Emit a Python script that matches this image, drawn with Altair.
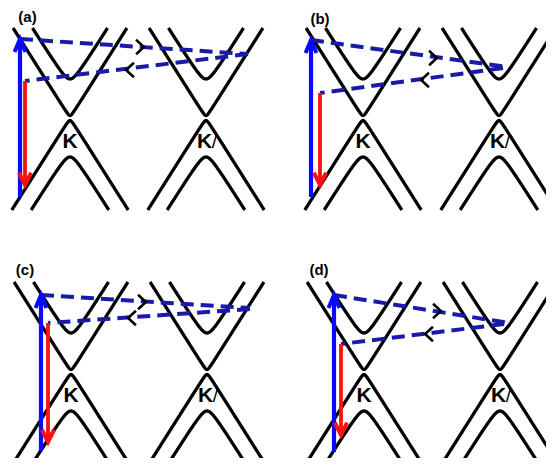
import altair as alt
import numpy as np
import pandas as pd

# ---- band schematic parameters (units: k horizontal, E vertical) ----
SLOPE = 1.58          # asymptotic band velocity
X_GAP = 2.5           # half gap of the crossing (X-shaped) bands
OUTER_SHIFT = 30      # offset of outer bands
OUTER_GAP = 9         # curvature of outer bands at the band edge
VALLEYS = [0, 136]    # K and K' positions (relative to K)
E_TOP = 90
E_BOT = -92

# panel placement (K-point crossing of each panel in the layout frame)
panel_x0 = [70, 363, 71, 364]
panel_y0 = [118, 118, 372, 372]

panel_labels = ["(a)", "(b)", "(c)", "(d)"]
label_k = [-42.5, -43, -46, -45]
label_E = [101.5, 99.5, 102, 102]

# vertical (optical) transitions
blue_k = [-50, -52, -30, -30]
blue_E0 = [-79, -79, -79, -80]
blue_E1 = [79, 78, 77, 77]
red_k = [-45, -43, -23, -23]
red_E0 = [37, 25, 49, 28]
red_E1 = [-67, -67, -70, -63]

# dashed intervalley scattering paths
out_k1 = [178, 145, 179, 145]
out_E1 = [64, 51, 64, 49]
ret_k0 = [178, 140, 179, 140]
ret_E0 = [64, 50, 63, 48]
chev_out_k = [70, 70, 71, 73]
chev_out_E = [71, 60, 70, 61]
chev_ret_k = [60, 62, 61, 65]
chev_ret_E = [48, 38, 54, 38]

valley_text = ["K", "K"]
valley_text_k = [0, 134.5]
prime_text = "/"
prime_k = 144.5
valley_text_E = -30

BLUE = "#0a0aff"
NAVY = "#1a1aa8"
RED = "#ff1010"
FONT = "Liberation Sans"

W, H = 538, 450


def gx(i, k):
    return panel_x0[i] + np.asarray(k, dtype=float)


def gy(i, E):
    return panel_y0[i] - np.asarray(E, dtype=float)


# ---- build tables ----
band_rows = []
branches = [("xu", 1, 0.0, X_GAP), ("xl", -1, 0.0, X_GAP),
            ("ou", 1, OUTER_SHIFT, OUTER_GAP), ("ol", -1, OUTER_SHIFT, OUTER_GAP)]
for i in range(4):
    for vi, v in enumerate(VALLEYS):
        for name, sign, shift, gap in branches:
            lim = E_TOP if sign > 0 else -E_BOT
            kmax = np.sqrt((lim - shift) ** 2 - gap ** 2) / SLOPE
            ks = np.linspace(-kmax, kmax, 401)
            Es = sign * (shift + np.sqrt(gap ** 2 + (SLOPE * ks) ** 2))
            for xx, yy in zip(gx(i, v + ks), gy(i, Es)):
                band_rows.append({"x": xx, "y": yy, "branch": f"{i}-{vi}-{name}"})
bands = pd.DataFrame(band_rows)

dash_rows, blue_rows, red_rows = [], [], []
bhead, rhead, chr_rows, chl_rows, txt_rows, prime_rows, lab_rows = [], [], [], [], [], [], []
for i in range(4):
    dash_rows.append({"x": gx(i, blue_k[i]), "y": gy(i, blue_E1[i]),
                      "x2": gx(i, out_k1[i]), "y2": gy(i, out_E1[i])})
    dash_rows.append({"x": gx(i, ret_k0[i]), "y": gy(i, ret_E0[i]),
                      "x2": gx(i, red_k[i]), "y2": gy(i, red_E0[i])})
    blue_rows.append({"x": gx(i, blue_k[i]), "y": gy(i, blue_E0[i]), "y2": gy(i, blue_E1[i] - 2)})
    bhead.append({"x": gx(i, blue_k[i]), "y": gy(i, blue_E1[i])})
    red_rows.append({"x": gx(i, red_k[i]), "y": gy(i, red_E0[i]), "y2": gy(i, red_E1[i] + 2)})
    rhead.append({"x": gx(i, red_k[i]), "y": gy(i, red_E1[i])})
    chr_rows.append({"x": gx(i, chev_out_k[i]), "y": gy(i, chev_out_E[i])})
    chl_rows.append({"x": gx(i, chev_ret_k[i]), "y": gy(i, chev_ret_E[i])})
    for t, kk in zip(valley_text, valley_text_k):
        txt_rows.append({"x": gx(i, kk), "y": gy(i, valley_text_E), "t": t})
    prime_rows.append({"x": gx(i, prime_k), "y": gy(i, valley_text_E), "t": prime_text})
    lab_rows.append({"x": gx(i, label_k[i]), "y": gy(i, label_E[i]), "t": panel_labels[i]})

xs = alt.Scale(domain=[8, 8 + W], nice=False, zero=False)
ys = alt.Scale(domain=[8, 8 + H], nice=False, zero=False, reverse=True)
X = alt.X("x:Q", scale=xs, axis=None)
Y = alt.Y("y:Q", scale=ys, axis=None)

UP = "M -0.42 1 L 0 0 L 0.42 1"
DOWN = "M -0.5 -1 L 0 0 L 0.5 -1"
CHEV_R = "M -0.27 -0.5 L 0.27 0 L -0.27 0.5"
CHEV_L = "M 0.27 -0.5 L -0.27 0 L 0.27 0.5"

band_layer = alt.Chart(bands).mark_line(
    color="black", strokeWidth=3.3, clip=True
).encode(x=X, y=Y, detail="branch:N")

dash_layer = alt.Chart(pd.DataFrame(dash_rows)).mark_rule(
    color=NAVY, strokeWidth=4, strokeDash=[13, 7], clip=True
).encode(x=X, y=Y, x2="x2:Q", y2="y2:Q")

blue_line = alt.Chart(pd.DataFrame(blue_rows)).mark_rule(
    color=BLUE, strokeWidth=4.2, clip=True).encode(x=X, y=Y, y2="y2:Q")
blue_head = alt.Chart(pd.DataFrame(bhead)).mark_point(
    shape=UP, size=676, filled=False, color=BLUE, strokeWidth=4, opacity=1,
    strokeJoin="miter", strokeCap="butt", clip=True
).encode(x=X, y=Y)

red_line = alt.Chart(pd.DataFrame(red_rows)).mark_rule(
    color=RED, strokeWidth=3.8, clip=True).encode(x=X, y=Y, y2="y2:Q")
red_head = alt.Chart(pd.DataFrame(rhead)).mark_point(
    shape=DOWN, size=600, filled=False, color=RED, strokeWidth=4, opacity=1,
    strokeJoin="miter", strokeCap="butt", clip=True
).encode(x=X, y=Y)

chev_r = alt.Chart(pd.DataFrame(chr_rows)).mark_point(
    shape=CHEV_R, size=850, filled=False, color="black", strokeWidth=2.5, opacity=1, clip=True
).encode(x=X, y=Y)
chev_l = alt.Chart(pd.DataFrame(chl_rows)).mark_point(
    shape=CHEV_L, size=850, filled=False, color="black", strokeWidth=2.5, opacity=1, clip=True
).encode(x=X, y=Y)

valley_labels = alt.Chart(pd.DataFrame(txt_rows)).mark_text(
    font=FONT, fontSize=21, fontWeight="bold", color="black",
    align="center", baseline="alphabetic", clip=True
).encode(x=X, y=Y, text="t:N")

prime_labels = alt.Chart(pd.DataFrame(prime_rows)).mark_text(
    font=FONT, fontSize=19, fontWeight="normal", color="black",
    align="center", baseline="alphabetic", clip=True
).encode(x=X, y=Y, text="t:N")

panel_label = alt.Chart(pd.DataFrame(lab_rows)).mark_text(
    font=FONT, fontSize=15, fontWeight="bold", color="black",
    align="center", baseline="middle", clip=True
).encode(x=X, y=Y, text="t:N")

chart = alt.layer(
    band_layer, dash_layer, chev_r, chev_l, blue_line, blue_head,
    red_line, red_head, valley_labels, prime_labels, panel_label
).properties(
    width=W, height=H,
    autosize=alt.AutoSizeParams(type="none"),
    padding=0,
    background="white",
).configure_view(stroke=None)

chart.save("out.html", embed_options={"renderer": "svg", "actions": False})
